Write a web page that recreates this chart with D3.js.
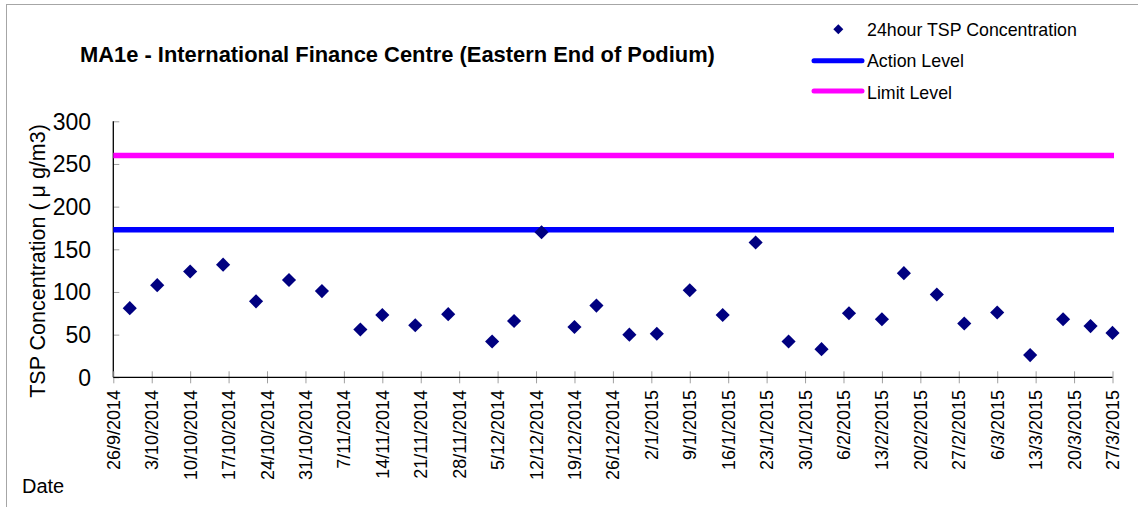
<!DOCTYPE html>
<html>
<head>
<meta charset="utf-8">
<script src="https://cdn.jsdelivr.net/npm/d3@7"></script>
<style>
  body { margin: 0; background: #fff; }
  svg { display: block; font-family: Arial, "Liberation Sans", sans-serif; }
</style>
</head>
<body>
<svg id="chart" width="1138" height="507"></svg>
<script>
// ---- data ----
const sampleDates = ["29/9/2014","4/10/2014","10/10/2014","16/10/2014","22/10/2014","28/10/2014","3/11/2014","10/11/2014","14/11/2014","20/11/2014","26/11/2014","4/12/2014","8/12/2014","13/12/2014","19/12/2014","23/12/2014","29/12/2014","3/1/2015","9/1/2015","15/1/2015","21/1/2015","27/1/2015","2/2/2015","7/2/2015","13/2/2015","17/2/2015","23/2/2015","28/2/2015","6/3/2015","12/3/2015","18/3/2015","23/3/2015","27/3/2015"];
const tspValues = [81,108,124,132,89,114,101,56,73,61,74,42,66,170,59,84,50,51,102,73,158,42,33,75,68,122,97,63,76,26,68,60,52];
const actionLevel = 173;
const limitLevel = 260;
const xTickLabels = ["26/9/2014","3/10/2014","10/10/2014","17/10/2014","24/10/2014","31/10/2014","7/11/2014","14/11/2014","21/11/2014","28/11/2014","5/12/2014","12/12/2014","19/12/2014","26/12/2014","2/1/2015","9/1/2015","16/1/2015","23/1/2015","30/1/2015","6/2/2015","13/2/2015","20/2/2015","27/2/2015","6/3/2015","13/3/2015","20/3/2015","27/3/2015"];
const yTicks = [0,50,100,150,200,250,300];
const legendItems = ["24hour TSP Concentration","Action Level","Limit Level"];
const titleText = "MA1e - International Finance Centre (Eastern End of Podium)";

(function () {
const parse = s => { const [d,m,y] = s.split("/").map(Number); return new Date(Date.UTC(y, m-1, d)); };

const svg = d3.select("#chart");
const pL = 113.3, pR = 1112.5, pT = 121.3, pB = 377.3;

const x = d3.scaleUtc()
  .domain([parse(xTickLabels[0]), parse(xTickLabels[xTickLabels.length-1])])
  .range([pL, pR]);
const y = d3.scaleLinear().domain([0, 300]).range([pB, pT]);

// outer border
svg.append("rect").attr("x", 6.5).attr("y", 4.5).attr("width", 1140).attr("height", 520)
  .attr("fill", "none").attr("stroke", "#a6a6a6").attr("stroke-width", 1);

// title
svg.append("text").attr("x", 80).attr("y", 62)
  .attr("font-size", 21.9).attr("font-weight", "bold").attr("fill", "#000")
  .text(titleText);

// y axis
const yAxis = d3.axisRight(y).tickValues(yTicks).tickSize(6).tickFormat("");
const gy = svg.append("g").attr("transform", `translate(${pL},0)`).call(yAxis);
gy.select(".domain").remove();
gy.selectAll(".tick line").attr("stroke", "#a0a0a0");
svg.selectAll(".ylab").data(yTicks).join("text").attr("class","ylab")
  .attr("x", 91).attr("y", d => y(d)).attr("dy", "0.36em")
  .attr("text-anchor", "end").attr("font-size", 23).attr("fill", "#000")
  .text(d => d);
svg.append("line").attr("x1", pL).attr("x2", pL).attr("y1", pT).attr("y2", pB)
  .attr("stroke", "#000").attr("stroke-width", 1.3);

// x axis
const xTickDates = xTickLabels.map(parse);
const xAxis = d3.axisBottom(x).tickValues(xTickDates).tickSize(6).tickFormat("");
const gx = svg.append("g").attr("transform", `translate(0,${pB})`).call(xAxis);
gx.select(".domain").remove();
gx.selectAll(".tick line").attr("stroke", "#a0a0a0").attr("y1", -6).attr("y2", 6);
svg.append("line").attr("x1", pL).attr("x2", pR).attr("y1", pB).attr("y2", pB)
  .attr("stroke", "#000").attr("stroke-width", 1.3);
svg.selectAll(".xlab").data(xTickLabels).join("text").attr("class","xlab")
  .attr("transform", d => `translate(${x(parse(d))},390) rotate(-90)`)
  .attr("dy", "0.36em").attr("text-anchor", "end")
  .attr("font-size", 18).attr("fill", "#000").text(d => d);

// level lines
svg.append("line").attr("x1", pL).attr("x2", pR + 1.5)
  .attr("y1", y(limitLevel)).attr("y2", y(limitLevel))
  .attr("stroke", "#ff00ff").attr("stroke-width", 5.5);
svg.append("line").attr("x1", pL).attr("x2", pR + 1.5)
  .attr("y1", y(actionLevel)).attr("y2", y(actionLevel))
  .attr("stroke", "#0000ff").attr("stroke-width", 5.5);

// points
svg.selectAll(".pt").data(sampleDates.map((d,i) => ({d: parse(d), v: tspValues[i]})))
  .join("path").attr("class","pt")
  .attr("d", d3.symbol().type(d3.symbolSquare).size(100))
  .attr("transform", p => `translate(${x(p.d)},${y(p.v)}) rotate(45)`)
  .attr("fill", "#000080");

// axis titles
svg.append("text").attr("transform", "translate(45,261) rotate(-90)")
  .attr("text-anchor", "middle").attr("font-size", 21.5).attr("fill", "#000")
  .text("TSP Concentration ( \u03BC g/m3)");
svg.append("text").attr("x", 22).attr("y", 493).attr("font-size", 20).attr("fill", "#000").text("Date");

// legend
const lg = svg.append("g");
lg.append("path").attr("d", d3.symbol().type(d3.symbolSquare).size(50))
  .attr("transform", "translate(838.3,29.3) rotate(45)").attr("fill", "#000080");
lg.append("line").attr("x1", 814).attr("x2", 862).attr("y1", 60.7).attr("y2", 60.7)
  .attr("stroke", "#0000ff").attr("stroke-width", 5).attr("stroke-linecap", "round");
lg.append("line").attr("x1", 814).attr("x2", 862).attr("y1", 91).attr("y2", 91)
  .attr("stroke", "#ff00ff").attr("stroke-width", 5).attr("stroke-linecap", "round");
lg.selectAll(".lt").data(legendItems).join("text").attr("class","lt")
  .attr("x", 867).attr("y", (d,i) => [35.7, 67, 99][i])
  .attr("font-size", 17.8).attr("fill", "#000").text(d => d);
})();
</script>
</body>
</html>
